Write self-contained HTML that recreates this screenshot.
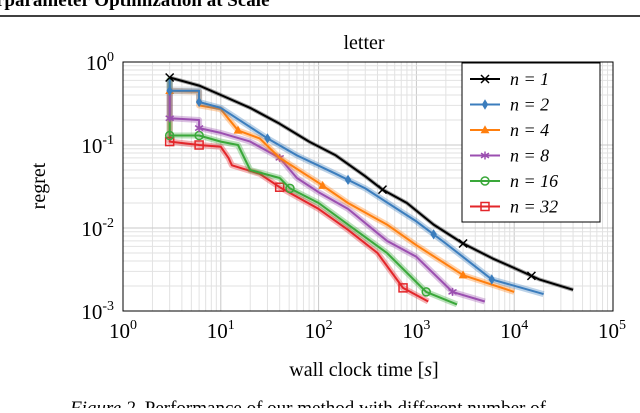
<!DOCTYPE html>
<html><head><meta charset="utf-8"><style>
body{margin:0;background:#fff;width:640px;height:408px;overflow:hidden}
svg{font-family:"Liberation Serif",serif}
</style></head><body>
<svg width="640" height="408" viewBox="0 0 640 408">
<text x="-4" y="6" font-size="19" font-weight="bold">rparameter Optimization at Scale</text>
<line x1="0" y1="16" x2="640" y2="16" stroke="#000" stroke-width="1.5"/>
<text x="364" y="49" font-size="20" text-anchor="middle">letter</text>
<g id="grid"></g>
<g id="series"></g>
<rect x="123" y="62" width="490" height="249" fill="none" stroke="#000" stroke-width="1"/>
<g id="ticks"></g>
<text x="364" y="376" font-size="20" text-anchor="middle">wall clock time [<tspan font-style="italic">s</tspan>]</text>
<text transform="translate(45,186) rotate(-90)" font-size="20" text-anchor="middle">regret</text>
<g id="legend"></g>
<text x="70" y="414" font-size="19"><tspan font-style="italic">Figure 2.</tspan> Performance of our method with different number of</text>
</svg>
<script>
const xTicks=[0,1,2,3,4,5];
const yTicks=[0,-1,-2,-3];
const seriesNames=["n = 1","n = 2","n = 4","n = 8","n = 16","n = 32"];
const colors=["#000000","#3b7dbd","#ff7f0e","#9b4fb0","#3aa83a","#e3262a"];
const s1=[[3,0.65],[6,0.52],[10,0.4],[20,0.28],[40,0.18],[80,0.11],[150,0.075],[300,0.042],[450,0.029],[800,0.02],[1500,0.011],[3000,0.0065],[6000,0.0043],[10000,0.0033],[18000,0.0024],[40000,0.0018]];
const s2=[[3,0.62],[3,0.45],[6,0.45],[6,0.33],[10,0.28],[30,0.12],[60,0.075],[150,0.045],[300,0.03],[1000,0.012],[2000,0.0065],[5900,0.0024],[20000,0.0016]];
const s4=[[3,0.45],[6,0.44],[6,0.3],[10,0.27],[15,0.15],[25,0.12],[40,0.07],[100,0.035],[200,0.02],[500,0.011],[1000,0.0062],[3000,0.0027],[10000,0.0017]];
const s8=[[3,0.45],[3,0.21],[6,0.2],[6,0.16],[10,0.14],[20,0.11],[40,0.07],[60,0.04],[100,0.027],[200,0.017],[500,0.007],[1000,0.0045],[2340,0.0017],[5000,0.0013]];
const s16=[[3,0.65],[3,0.13],[6,0.13],[10,0.11],[15,0.1],[20,0.05],[40,0.04],[51,0.03],[100,0.02],[200,0.011],[500,0.005],[1260,0.0017],[2600,0.0012]];
const s32=[[3,0.62],[3,0.11],[6,0.1],[10,0.095],[12,0.07],[13,0.057],[25,0.045],[40,0.031],[100,0.017],[200,0.0095],[400,0.005],[730,0.0019],[1320,0.0013]];
const markerT=[[3,450,3000,15000],[3,6,30,200,1500,5900],[3,15,110,3000],[3,6,40,2340],[3,6,51,1260],[3,6,40,730]];
const allSeries=[s1,s2,s4,s8,s16,s32];
const NS="http://www.w3.org/2000/svg";
const X=t=>123+97.8*Math.log10(t);
const Y=r=>62-83*Math.log10(r);
function mk(tag,attrs,parent){const e=document.createElementNS(NS,tag);for(const k in attrs)e.setAttribute(k,attrs[k]);parent.appendChild(e);return e;}
const grid=document.getElementById('grid');
for(let d=0;d<5;d++)for(let m=1;m<=9;m++){const x=X(Math.pow(10,d)*m);const l=mk('line',{x1:x,x2:x,y1:62,y2:311,stroke:m==1?'#c8c8c8':'#e2e2e2','stroke-width':1},grid);

}
for(let d=-3;d<0;d++)for(let m=1;m<=9;m++){const y=Y(Math.pow(10,d)*m);const l=mk('line',{x1:123,x2:613,y1:y,y2:y,stroke:m==1?'#c8c8c8':'#e2e2e2','stroke-width':1},grid);

}
const ticks=document.getElementById('ticks');
xTicks.forEach(p=>{const t=mk('text',{x:X(Math.pow(10,p)),y:338,'font-size':21,'text-anchor':'middle'},ticks);t.innerHTML='10<tspan font-size="14" dy="-9">'+p+'</tspan>';

});
yTicks.forEach(p=>{const t=mk('text',{x:114,y:Y(Math.pow(10,p))+8,'font-size':21,'text-anchor':'end'},ticks);t.innerHTML='10<tspan font-size="14" dy="-9">'+p+'</tspan>';

});
function interp(s,t){for(let i=s.length-1;i>=0;i--){if(s[i][0]<=t){if(i==s.length-1)return s[i][1];const a=s[i],b=s[i+1];const f=(Math.log10(t)-Math.log10(a[0]))/(Math.log10(b[0])-Math.log10(a[0])||1);return Math.pow(10,Math.log10(a[1])+f*(Math.log10(b[1])-Math.log10(a[1])));}}return s[0][1];}
function marker(g,i,x,y,sz){const c=colors[i];let e;
if(i==0){e=mk('path',{d:`M${x-sz} ${y-sz}L${x+sz} ${y+sz}M${x-sz} ${y+sz}L${x+sz} ${y-sz}`,stroke:c,'stroke-width':1.5},g);}
else if(i==1){e=mk('path',{d:`M${x} ${y-sz*1.3}L${x+sz*0.8} ${y}L${x} ${y+sz*1.3}L${x-sz*0.8} ${y}Z`,fill:c},g);}
else if(i==2){e=mk('path',{d:`M${x} ${y-sz*1.2}L${x+sz*1.1} ${y+sz*0.8}L${x-sz*1.1} ${y+sz*0.8}Z`,fill:c},g);}
else if(i==3){e=mk('path',{d:`M${x} ${y-sz}L${x} ${y+sz}M${x-sz} ${y-sz*0.6}L${x+sz} ${y+sz*0.6}M${x-sz} ${y+sz*0.6}L${x+sz} ${y-sz*0.6}`,stroke:c,'stroke-width':1.5},g);}
else if(i==4){e=mk('circle',{cx:x,cy:y,r:sz,fill:'none',stroke:c,'stroke-width':1.5},g);}
else {e=mk('rect',{x:x-sz,y:y-sz,width:2*sz,height:2*sz,fill:'none',stroke:c,'stroke-width':1.5},g);}

}
const sg=document.getElementById('series');
for(let i=allSeries.length-1;i>=0;i--){const s=allSeries[i];const d=s.map((p,j)=>(j?'L':'M')+X(p[0]).toFixed(1)+' '+Y(p[1]).toFixed(1)).join('');
const band=mk('path',{d:d,fill:'none',stroke:colors[i],'stroke-opacity':0.35,'stroke-width':i==0?4:6,'stroke-linejoin':'round'},sg);


const line=mk('path',{d:d,fill:'none',stroke:colors[i],'stroke-width':2,'stroke-linejoin':'round'},sg);


markerT[i].forEach(t=>marker(sg,i,X(t),Y(interp(s,t)),4));}
const lg=document.getElementById('legend');
const box=mk('rect',{x:462,y:63,width:138,height:159,fill:'#fff',stroke:'#000','stroke-width':1},lg);


seriesNames.forEach((n,i)=>{const y=79+i*25.5;
const l=mk('line',{x1:470,x2:500,y1:y,y2:y,stroke:colors[i],'stroke-width':2},lg);


marker(lg,i,485,y,4);
const t=mk('text',{x:510,y:y+6,'font-size':18,'font-style':'italic'},lg);
t.textContent=n;

});
</script>
</body></html>
